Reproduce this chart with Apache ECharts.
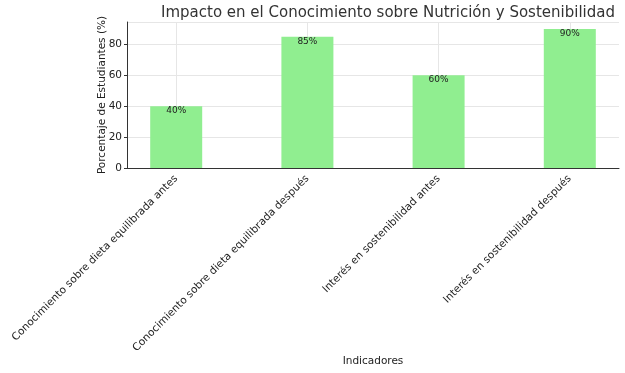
<!DOCTYPE html>
<html>
<head>
<meta charset="utf-8">
<script src="https://cdn.jsdelivr.net/npm/echarts@6/dist/echarts.min.js"></script>
<style>
  html, body { margin: 0; padding: 0; background: #fff; }
  #chart { width: 625px; height: 373px; }
</style>
</head>
<body>
<div id="chart"></div>
<script>
// datos del gráfico
const indicadores = [
  "Conocimiento sobre dieta equilibrada antes",
  "Conocimiento sobre dieta equilibrada después",
  "Interés en sostenibilidad antes",
  "Interés en sostenibilidad después"
];
const porcentajes = [40, 85, 60, 90];
const yTicks = [0, 20, 40, 60, 80];

// the axis spans 3.75 bar-steps, so each bar step = 4 slots; bars sit on slots 1,5,9,13
const SLOTS = 15;
const slotCats = [];
const slotVals = [];
for (let i = 0; i < SLOTS; i++) {
  const k = (i - 1) / 4;
  if (Number.isInteger(k) && k >= 0 && k < indicadores.length) {
    slotCats.push(indicadores[k]);
    slotVals.push(porcentajes[k]);
  } else {
    slotCats.push("");
    slotVals.push("-");
  }
}
const isBarSlot = (i) => (i - 1) % 4 === 0 && i >= 1 && i <= 13;

const chart = echarts.init(document.getElementById("chart"));
const font = "DejaVu Sans";

chart.setOption({
  animation: false,
  textStyle: { fontFamily: font },
  title: {
    text: "Impacto en el Conocimiento sobre Nutrición y Sostenibilidad",
    left: 383,
    textAlign: "center",
    top: 1,
    textStyle: { fontFamily: font, fontSize: 15, fontWeight: "normal", color: "#333" }
  },
  grid: { left: 127, right: 6, top: 22, bottom: 205, containLabel: false },
  xAxis: {
    type: "category",
    data: slotCats,
    boundaryGap: true,
    name: "Indicadores",
    nameLocation: "middle",
    nameGap: 188,
    nameMoveOverlap: false,
    nameTextStyle: { fontFamily: font, fontSize: 10.5, color: "#222" },
    axisLine: { show: true, lineStyle: { color: "#333", width: 1 } },
    axisTick: {
      show: true,
      alignWithLabel: true,
      inside: true,
      length: 3,
      interval: (i) => isBarSlot(i),
      lineStyle: { color: "#333" }
    },
    axisLabel: {
      interval: (i) => isBarSlot(i),
      rotate: 45,
      margin: 9,
      fontFamily: font,
      fontSize: 10.5,
      color: "#222"
    },
    splitLine: {
      show: true,
      alignWithLabel: true,
      interval: (i) => isBarSlot(i),
      lineStyle: { color: "#e6e6e6", width: 1 }
    }
  },
  yAxis: {
    type: "value",
    min: 0,
    max: 94.5,
    interval: 20,
    name: "Porcentaje de Estudiantes (%)",
    nameLocation: "middle",
    nameGap: 19,
    nameMoveOverlap: false,
    nameTextStyle: { fontFamily: font, fontSize: 10.5, color: "#222" },
    axisLine: { show: true, lineStyle: { color: "#333", width: 1 } },
    axisTick: { show: true, length: 3, lineStyle: { color: "#333" } },
    axisLabel: {
      fontFamily: font,
      fontSize: 10.5,
      color: "#222",
      margin: 5,
      formatter: (v) => (yTicks.includes(v) ? String(v) : ""),
      showMaxLabel: false
    },
    splitLine: { show: true, lineStyle: { color: "#e6e6e6", width: 1 } }
  },
  series: [
    {
      type: "bar",
      data: slotVals,
      barWidth: 52,
      itemStyle: { color: "#90ee90" },
      label: {
        show: true,
        position: "insideTop",
        distance: 0,
        formatter: (p) => p.value + "%",
        fontFamily: font,
        fontSize: 9,
        color: "#222"
      }
    }
  ]
});
</script>
</body>
</html>
